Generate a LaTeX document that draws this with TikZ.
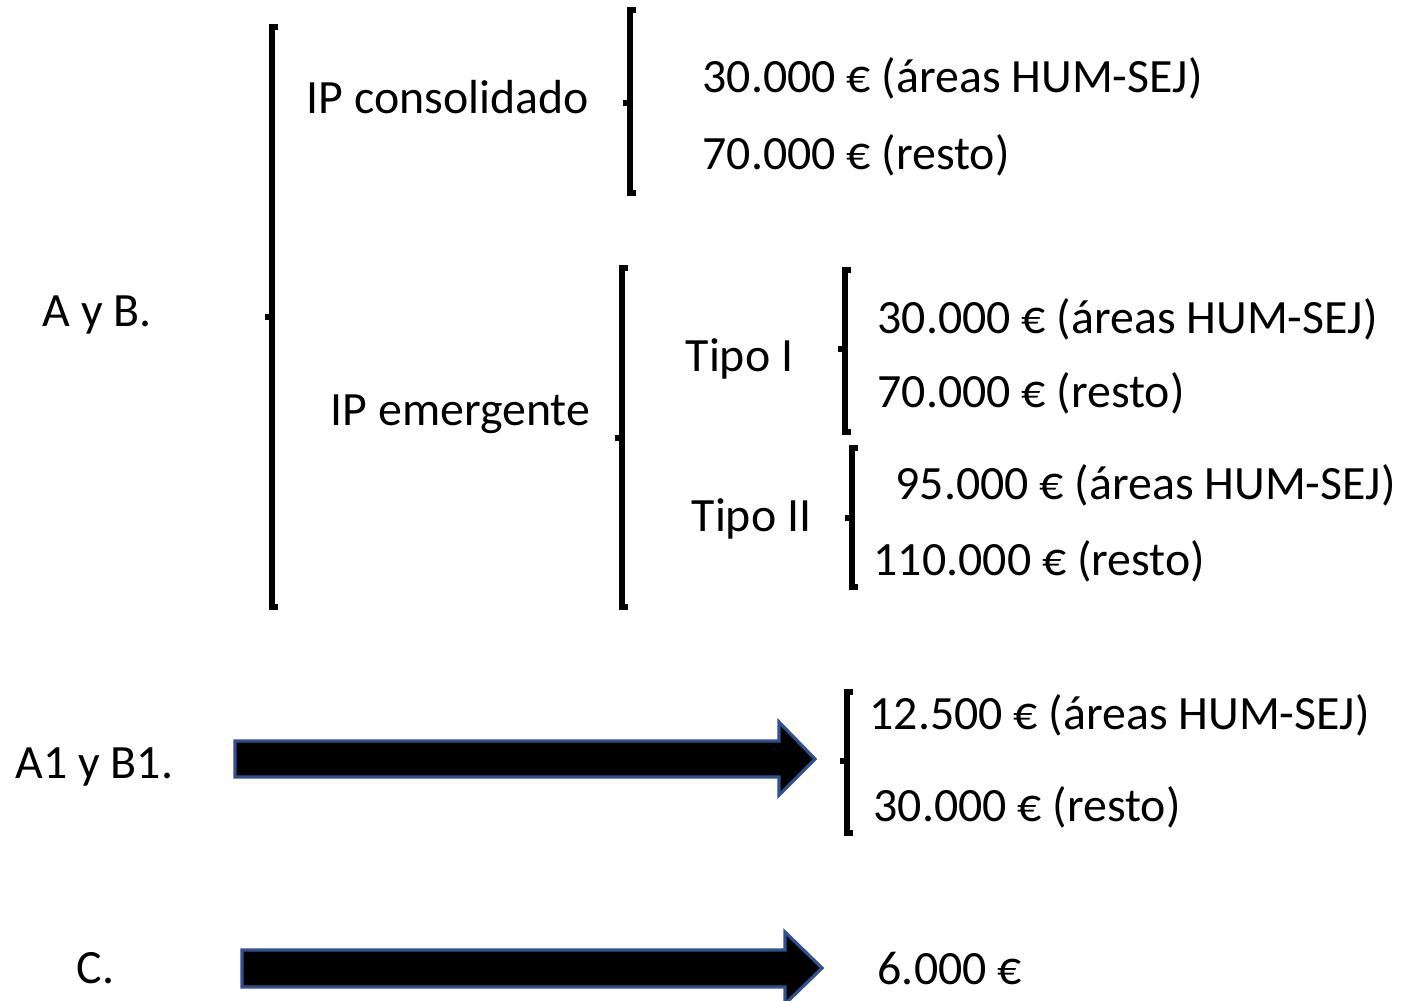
\documentclass[tikz,border=0pt]{standalone}
\usepackage{fontspec}
\setmainfont{Carlito}
\usetikzlibrary{positioning}
\definecolor{arrowblue}{HTML}{2F528F}

\begin{document}
\begin{tikzpicture}[x=0.01cm, y=-0.01cm,
    lbl/.style={anchor=west, inner sep=0pt, font=\fontsize{13.6}{16}\selectfont, text height=8.8pt, text depth=0pt},
    brk/.style={line width=1.7pt},
    fat/.style={fill=black, draw=arrowblue, line width=0.9pt, line join=miter}]
    \useasboundingbox (0,0) rectangle (1404,1001);

    % Labels, left column
    \node[lbl] (ab)  at (42,311) {A y B.};
    \node[lbl] (aub) at (15,763) {A1 y B1.};
    \node[lbl] (c)   at (76,968) {C.};

    % IP consolidado
    \node[lbl] (ipcons)    at (306,98)  {IP consolidado};
    \node[lbl] (conshum)   at (702,77)  {30.000 € (áreas HUM-SEJ)};
    \node[lbl] (consresto) at (702,154) {70.000 € (resto)};

    % IP emergente
    \node[lbl] (ipemer)      at (330,410) {IP emergente};
    \node[lbl] (tipoI)       at (685,356) {Tipo I};
    \node[lbl] (tipoIhum)    at (877,318) {30.000 € (áreas HUM-SEJ)};
    \node[lbl] (tipoIresto)  at (877,392) {70.000 € (resto)};
    \node[lbl] (tipoII)      at (691,516) {Tipo II};
    \node[lbl] (tipoIIhum)   at (895,484) {95.000 € (áreas HUM-SEJ)};
    \node[lbl] (tipoIIresto) at (873,560) {110.000 € (resto)};

    % A1 y B1. / C.
    \node[lbl] (aubhum)   at (869,714) {12.500 € (áreas HUM-SEJ)};
    \node[lbl] (auburesto) at (873,806) {30.000 € (resto)};
    \node[lbl] (cval)     at (877,969) {6.000 €};

    % Brackets: x/top/bottom/tick
    \foreach \x/\ya/\yb/\ym in {272/27/607/317, 630/10/193/103, 622/268/607/438,
                                 845/270/432/349, 852/448/587/518, 847/692/833/761}{
        \draw[brk] (\x+6,\ya) -- (\x,\ya) -- (\x,\yb) -- (\x+6,\yb);
        \draw[brk] (\x,\ym) -- (\x-7,\ym);
    }

    % Block arrows
    \draw[fat] (235,741) -- (779,741) -- (779,722) -- (815,759) -- (779,795)
               -- (779,777) -- (235,777) -- cycle;
    \draw[fat] (242,950) -- (785,950) -- (785,932) -- (822,968) -- (785,1004)
               -- (785,987) -- (242,987) -- cycle;
\end{tikzpicture}
\end{document}
